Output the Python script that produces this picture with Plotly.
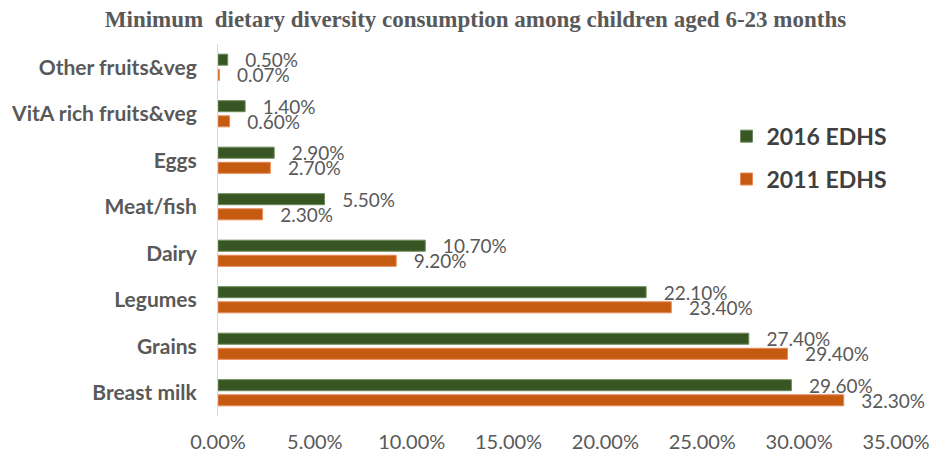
import plotly.graph_objects as go

categories = ["Breast milk", "Grains", "Legumes", "Dairy", "Meat/fish", "Eggs",
              "VitA rich fruits&veg", "Other fruits&veg"]
edhs_2016 = [0.296, 0.274, 0.221, 0.107, 0.055, 0.029, 0.014, 0.005]
edhs_2011 = [0.323, 0.294, 0.234, 0.092, 0.023, 0.027, 0.006, 0.0007]
tick_vals = [0, 0.05, 0.10, 0.15, 0.20, 0.25, 0.30, 0.35]

GREEN = "#375623"
ORANGE = "#C55A11"
GRAY = "#595959"
LABEL_FONT = dict(family="Lato", size=19, color=GRAY)
PAD = "\u00a0\u00a0\u00a0"

fig = go.Figure()
fig.add_trace(go.Bar(
    y=categories, x=edhs_2011, orientation="h", name="2011 EDHS",
    marker=dict(color=ORANGE, line=dict(color="#E8895A", width=1)),
    legendgroup="a", legendrank=2,
    text=[f"{PAD}{v*100:.2f}%" for v in edhs_2011], textposition="outside",
    textfont=LABEL_FONT, constraintext="none", cliponaxis=False,
))
fig.add_trace(go.Bar(
    y=categories, x=edhs_2016, orientation="h", name="2016 EDHS",
    marker=dict(color=GREEN, line=dict(color="#6E8A5A", width=1)),
    legendgroup="b", legendrank=1,
    text=[f"{PAD}{v*100:.2f}%" for v in edhs_2016], textposition="outside",
    textfont=LABEL_FONT, constraintext="none", cliponaxis=False,
))

fig.update_layout(
    width=951, height=456,
    margin=dict(l=218, r=55, t=44, b=40),
    paper_bgcolor="white", plot_bgcolor="white",
    barmode="group", bargap=0.35, bargroupgap=0.27,
    title=dict(text="<b>Minimum  dietary diversity consumption among children aged 6-23 months</b>",
               x=0.5, xanchor="center", y=0.958, yanchor="middle",
               font=dict(family="Liberation Serif", size=23, color=GRAY)),
    legend=dict(x=0.75, y=0.81, xanchor="left", yanchor="top",
                traceorder="grouped", tracegroupgap=10,
                font=dict(family="Lato", size=23, color="#404040", weight="bold"),
                bgcolor="rgba(0,0,0,0)"),
    xaxis=dict(range=[0, 0.35], tickvals=tick_vals, tickformat=".2%",
               showgrid=False, zeroline=False, showline=False, automargin=False,
               tickfont=dict(family="Lato", size=20, color=GRAY), ticklen=0,
               ticklabelstandoff=12),
    yaxis=dict(showline=True, linecolor="#D9D9D9", linewidth=1, showgrid=False,
               automargin=False, ticks="",
               tickfont=dict(family="Lato", size=21, color=GRAY, weight="bold"),
               ticklabelstandoff=16),
)
fig.write_html("out.html", config={"displayModeBar": False},
               post_script="document.body.style.margin='0px';")
